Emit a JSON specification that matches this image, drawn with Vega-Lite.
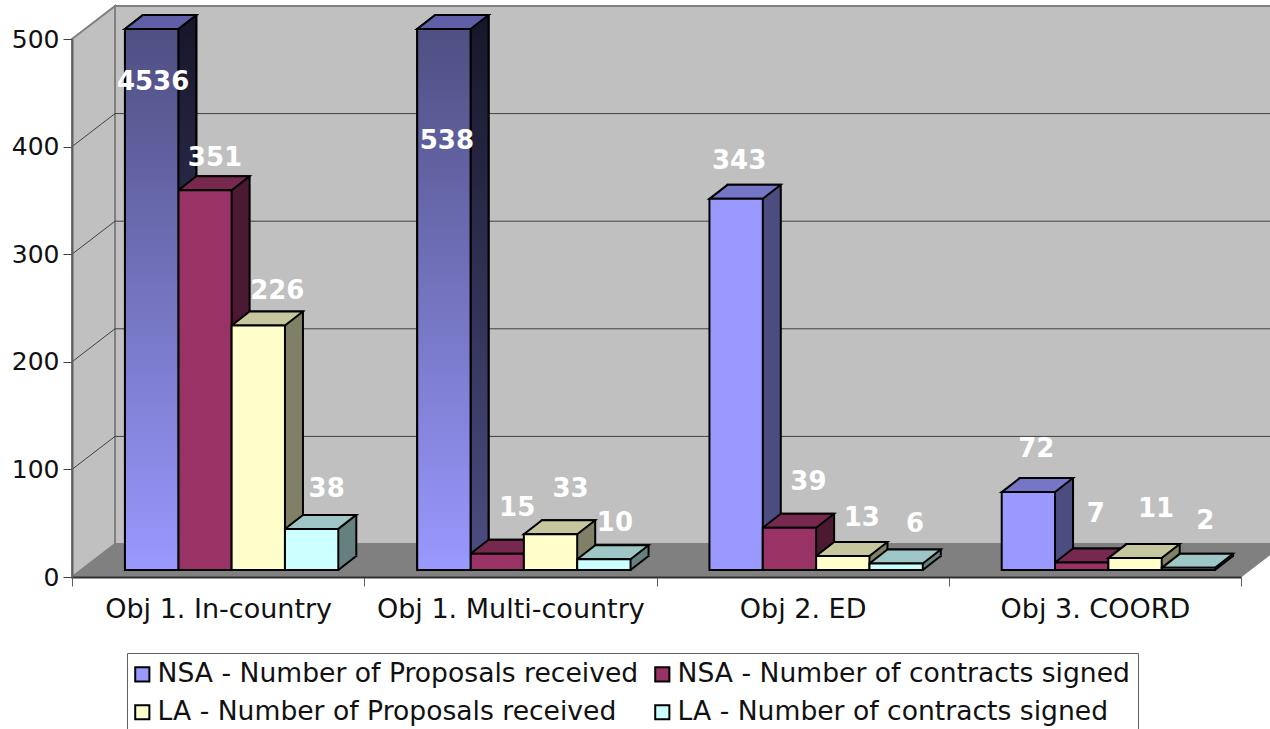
{
"$schema":"https://vega.github.io/schema/vega-lite/v6.json",
"autosize":{"type":"none"},
"width":1169,"height":538,
"padding":{"left":72,"top":39,"right":29,"bottom":152},
"background":"white",
"config":{"view":{"stroke":null},"font":"DejaVu Sans"},
"datasets":{
"rows":[
{"category":"Obj 1. In-country","series":"NSA - Number of Proposals received","value":4536},
{"category":"Obj 1. In-country","series":"NSA - Number of contracts signed","value":351},
{"category":"Obj 1. In-country","series":"LA - Number of Proposals received","value":226},
{"category":"Obj 1. In-country","series":"LA - Number of contracts signed","value":38},
{"category":"Obj 1. Multi-country","series":"NSA - Number of Proposals received","value":538},
{"category":"Obj 1. Multi-country","series":"NSA - Number of contracts signed","value":15},
{"category":"Obj 1. Multi-country","series":"LA - Number of Proposals received","value":33},
{"category":"Obj 1. Multi-country","series":"LA - Number of contracts signed","value":10},
{"category":"Obj 2. ED","series":"NSA - Number of Proposals received","value":343},
{"category":"Obj 2. ED","series":"NSA - Number of contracts signed","value":39},
{"category":"Obj 2. ED","series":"LA - Number of Proposals received","value":13},
{"category":"Obj 2. ED","series":"LA - Number of contracts signed","value":6},
{"category":"Obj 3. COORD","series":"NSA - Number of Proposals received","value":72},
{"category":"Obj 3. COORD","series":"NSA - Number of contracts signed","value":7},
{"category":"Obj 3. COORD","series":"LA - Number of Proposals received","value":11},
{"category":"Obj 3. COORD","series":"LA - Number of contracts signed","value":2}
],
"gridValues":[{"level":100},{"level":200},{"level":300},{"level":400}],
"origin":[{"level":0}]
},
"layer":[
{
"encoding":{
"x":{"datum":0,"type":"quantitative","scale":{"domain":[0,4]},"axis":null},
"y":{"datum":0,"type":"quantitative","scale":{"domain":[0,500]},"axis":null}
},
"layer":[
{"data":{"name":"origin"},"mark":{"type":"rect","fill":"#C0C0C0","stroke":"#808080","strokeWidth":2,"xOffset":43,"x2Offset":43,"yOffset":-33,"y2Offset":-33},
"encoding":{"x":{"datum":0,"type":"quantitative"},"x2":{"datum":4},"y":{"datum":0,"type":"quantitative"},"y2":{"datum":500}}},
{"data":{"name":"origin"},"mark":{"type":"point","shape":"M0 0L43 -33L43 -571L0 -538Z","size":4,"filled":true,"fill":"#C0C0C0","stroke":"#808080","strokeWidth":2,"opacity":1}},
{"data":{"name":"origin"},"mark":{"type":"point","shape":"M0 0L1169 0L1212 -33L43 -33Z","size":4,"filled":true,"fill":"#808080","stroke":"#808080","strokeWidth":1,"opacity":1}}
]
},
{
"data":{"name":"gridValues"},
"encoding":{
"y":{"field":"level","type":"quantitative","axis":null,"scale":{"domain":[0,500],"range":[505,-33]}}
},
"layer":[
{"mark":{"type":"rule","stroke":"#404040","strokeWidth":1},
"encoding":{"x":{"datum":0,"type":"quantitative","axis":null,"scale":{"domain":[0,4],"range":[43,1212]}},"x2":{"datum":4}}}
]
},
{
"data":{"name":"gridValues"},
"mark":{"type":"point","shape":"M0 0L43 -33","size":4,"filled":false,"stroke":"#404040","strokeWidth":1,"opacity":1},
"encoding":{
"x":{"datum":0,"type":"quantitative","axis":null,"scale":{"domain":[0,4]}},
"y":{"field":"level","type":"quantitative","axis":null,"scale":{"domain":[0,500]}}
}
},
{
"data":{"name":"rows"},
"mark":{"type":"bar","opacity":0},
"encoding":{
"x":{"field":"category","type":"nominal","scale":{"domain":["Obj 1. In-country","Obj 1. Multi-country","Obj 2. ED","Obj 3. COORD"],"paddingInner":0,"paddingOuter":0},
"axis":{"title":null,"labelAngle":0,"tickBand":"extent","domainColor":"#303030","domainWidth":2,"tickColor":"#606060","tickSize":9,"labelFontSize":27,"labelColor":"#111111","labelPadding":10,"labelFont":"DejaVu Sans","labelLimit":400,"zindex":1}},
"y":{"datum":0,"type":"quantitative","scale":{"domain":[0,500]},"axis":{"values":[0,100,200,300,400,500],"grid":false,"title":null,"domainColor":"#606060","domainWidth":2,"tickColor":"#404040","tickSize":9,"labelFontSize":25,"labelColor":"#111111","labelPadding":4,"labelFont":"DejaVu Sans","zindex":1}}
}
},
{
"data":{"name":"rows"},
"encoding":{
"x":{"field":"category","type":"nominal","axis":null,"scale":{"domain":["Obj 1. In-country","Obj 1. Multi-country","Obj 2. ED","Obj 3. COORD"],"range":[31.5,1200.5],"paddingInner":0.27,"paddingOuter":0.135}},
"xOffset":{"field":"series","type":"nominal","scale":{"domain":["NSA - Number of Proposals received","NSA - Number of contracts signed","LA - Number of Proposals received","LA - Number of contracts signed"]}},
"y":{"field":"value","type":"quantitative","axis":null,"scale":{"domain":[0,500],"range":[517,-24],"clamp":true}}
},
"layer":[
{"mark":{"type":"bar","stroke":"black","strokeWidth":2},
"encoding":{"color":{"field":"series","type":"nominal","legend":null,"scale":{"domain":["NSA - Number of Proposals received","NSA - Number of contracts signed","LA - Number of Proposals received","LA - Number of contracts signed"],"range":["#4C4C80","#4C1933","#808066","#668080"]}}}},
{"transform":[{"filter":"datum.value>500"}],
"mark":{"type":"bar","stroke":"black","strokeWidth":2,
"fill":{"gradient":"linear","x1":0,"y1":0,"x2":0,"y2":1,"stops":[{"offset":0,"color":"#16162A"},{"offset":1,"color":"#4C4C80"}]}}}
]
},
{
"data":{"name":"rows"},
"encoding":{
"x":{"field":"category","type":"nominal","axis":null,"scale":{"domain":["Obj 1. In-country","Obj 1. Multi-country","Obj 2. ED","Obj 3. COORD"],"range":[13.5,1182.5],"paddingInner":0.27,"paddingOuter":0.135}},
"xOffset":{"field":"series","type":"nominal","scale":{"domain":["NSA - Number of Proposals received","NSA - Number of contracts signed","LA - Number of Proposals received","LA - Number of contracts signed"]}},
"y":{"field":"value","type":"quantitative","axis":null,"scale":{"domain":[0,500],"range":[531,-10],"clamp":true}}
},
"resolve":{"scale":{"color":"independent"},"legend":{"color":"independent"}},
"layer":[
{"mark":{"type":"point","shape":"M26.65 0L44.65 -14L44.65 -15L26.65 -15Z","size":4,"filled":true,"opacity":1},
"encoding":{"y":{"datum":0,"type":"quantitative"},"color":{"field":"series","type":"nominal","legend":null,"scale":{"domain":["NSA - Number of Proposals received","NSA - Number of contracts signed","LA - Number of Proposals received","LA - Number of contracts signed"],"range":["#4C4C80","#4C1933","#808066","#668080"]}}}},
{"mark":{"type":"point","shape":"M26.65 0L44.65 -14","size":4,"filled":false,"stroke":"black","strokeWidth":2,"opacity":1},
"encoding":{"y":{"datum":0,"type":"quantitative"}}},
{"mark":{"type":"point","shape":"M-26.65 0L26.65 0L44.65 -14L-8.65 -14Z","size":4,"filled":true,"stroke":"black","strokeWidth":2,"opacity":1},
"encoding":{"color":{"field":"series","type":"nominal","legend":null,"scale":{"domain":["NSA - Number of Proposals received","NSA - Number of contracts signed","LA - Number of Proposals received","LA - Number of contracts signed"],"range":["#7676C6","#77284F","#C6C69F","#9FC6C6"]}}}},
{"transform":[{"filter":"datum.value>500"}],
"mark":{"type":"point","shape":"M-26.65 0L26.65 0L44.65 -14L-8.65 -14Z","size":4,"filled":true,"fill":"#5F5FA8","stroke":"black","strokeWidth":2,"opacity":1}},
{"mark":{"type":"bar","stroke":"black","strokeWidth":2},
"encoding":{"color":{"field":"series","type":"nominal",
"scale":{"domain":["NSA - Number of Proposals received","NSA - Number of contracts signed","LA - Number of Proposals received","LA - Number of contracts signed"],"range":["#9999FF","#993366","#FFFFCC","#CCFFFF"]},
"legend":{"orient":"none","direction":"horizontal","legendX":55,"legendY":614,"columns":2,"title":null,"symbolType":"square","symbolSize":200,"symbolOffset":-6,"symbolStrokeColor":"black","symbolStrokeWidth":2,"labelFontSize":26.6,"labelColor":"#111111","labelFont":"DejaVu Sans","labelLimit":600,"fillColor":"white","strokeColor":"#606060","padding":8,"rowPadding":11,"columnPadding":12,"labelOffset":2}}}},
{"transform":[{"filter":"datum.value>500"}],
"mark":{"type":"bar","stroke":"black","strokeWidth":2,
"fill":{"gradient":"linear","x1":0,"y1":0,"x2":0,"y2":1,"stops":[{"offset":0,"color":"#4F4F82"},{"offset":1,"color":"#9999FF"}]}}},
{
"encoding":{"text":{"field":"value","type":"quantitative"}},
"layer":[
{"transform":[{"filter":"datum.value==4536"}],"mark":{"type":"text","color":"white","fontWeight":"bold","fontSize":26,"dx":1.5,"dy":53}},
{"transform":[{"filter":"datum.value==351"}],"mark":{"type":"text","color":"white","fontWeight":"bold","fontSize":26,"dx":10,"dy":-32}},
{"transform":[{"filter":"datum.value==226"}],"mark":{"type":"text","color":"white","fontWeight":"bold","fontSize":26,"dx":19,"dy":-34}},
{"transform":[{"filter":"datum.value==38"}],"mark":{"type":"text","color":"white","fontWeight":"bold","fontSize":26,"dx":15,"dy":-40}},
{"transform":[{"filter":"datum.value==538"}],"mark":{"type":"text","color":"white","fontWeight":"bold","fontSize":26,"dx":3,"dy":112}},
{"transform":[{"filter":"datum.value==15"}],"mark":{"type":"text","color":"white","fontWeight":"bold","fontSize":26,"dx":20,"dy":-46}},
{"transform":[{"filter":"datum.value==33"}],"mark":{"type":"text","color":"white","fontWeight":"bold","fontSize":26,"dx":20,"dy":-45}},
{"transform":[{"filter":"datum.value==10"}],"mark":{"type":"text","color":"white","fontWeight":"bold","fontSize":26,"dx":11,"dy":-36}},
{"transform":[{"filter":"datum.value==343"}],"mark":{"type":"text","color":"white","fontWeight":"bold","fontSize":26,"dx":3,"dy":-38}},
{"transform":[{"filter":"datum.value==39"}],"mark":{"type":"text","color":"white","fontWeight":"bold","fontSize":26,"dx":19,"dy":-46}},
{"transform":[{"filter":"datum.value==13"}],"mark":{"type":"text","color":"white","fontWeight":"bold","fontSize":26,"dx":19,"dy":-38}},
{"transform":[{"filter":"datum.value==6"}],"mark":{"type":"text","color":"white","fontWeight":"bold","fontSize":26,"dx":19,"dy":-40}},
{"transform":[{"filter":"datum.value==72"}],"mark":{"type":"text","color":"white","fontWeight":"bold","fontSize":26,"dx":8,"dy":-43}},
{"transform":[{"filter":"datum.value==7"}],"mark":{"type":"text","color":"white","fontWeight":"bold","fontSize":26,"dx":14,"dy":-48}},
{"transform":[{"filter":"datum.value==11"}],"mark":{"type":"text","color":"white","fontWeight":"bold","fontSize":26,"dx":21,"dy":-49}},
{"transform":[{"filter":"datum.value==2"}],"mark":{"type":"text","color":"white","fontWeight":"bold","fontSize":26,"dx":17,"dy":-47}}
]
}
]
}
],
"resolve":{"scale":{"x":"independent","y":"independent"}}
}
